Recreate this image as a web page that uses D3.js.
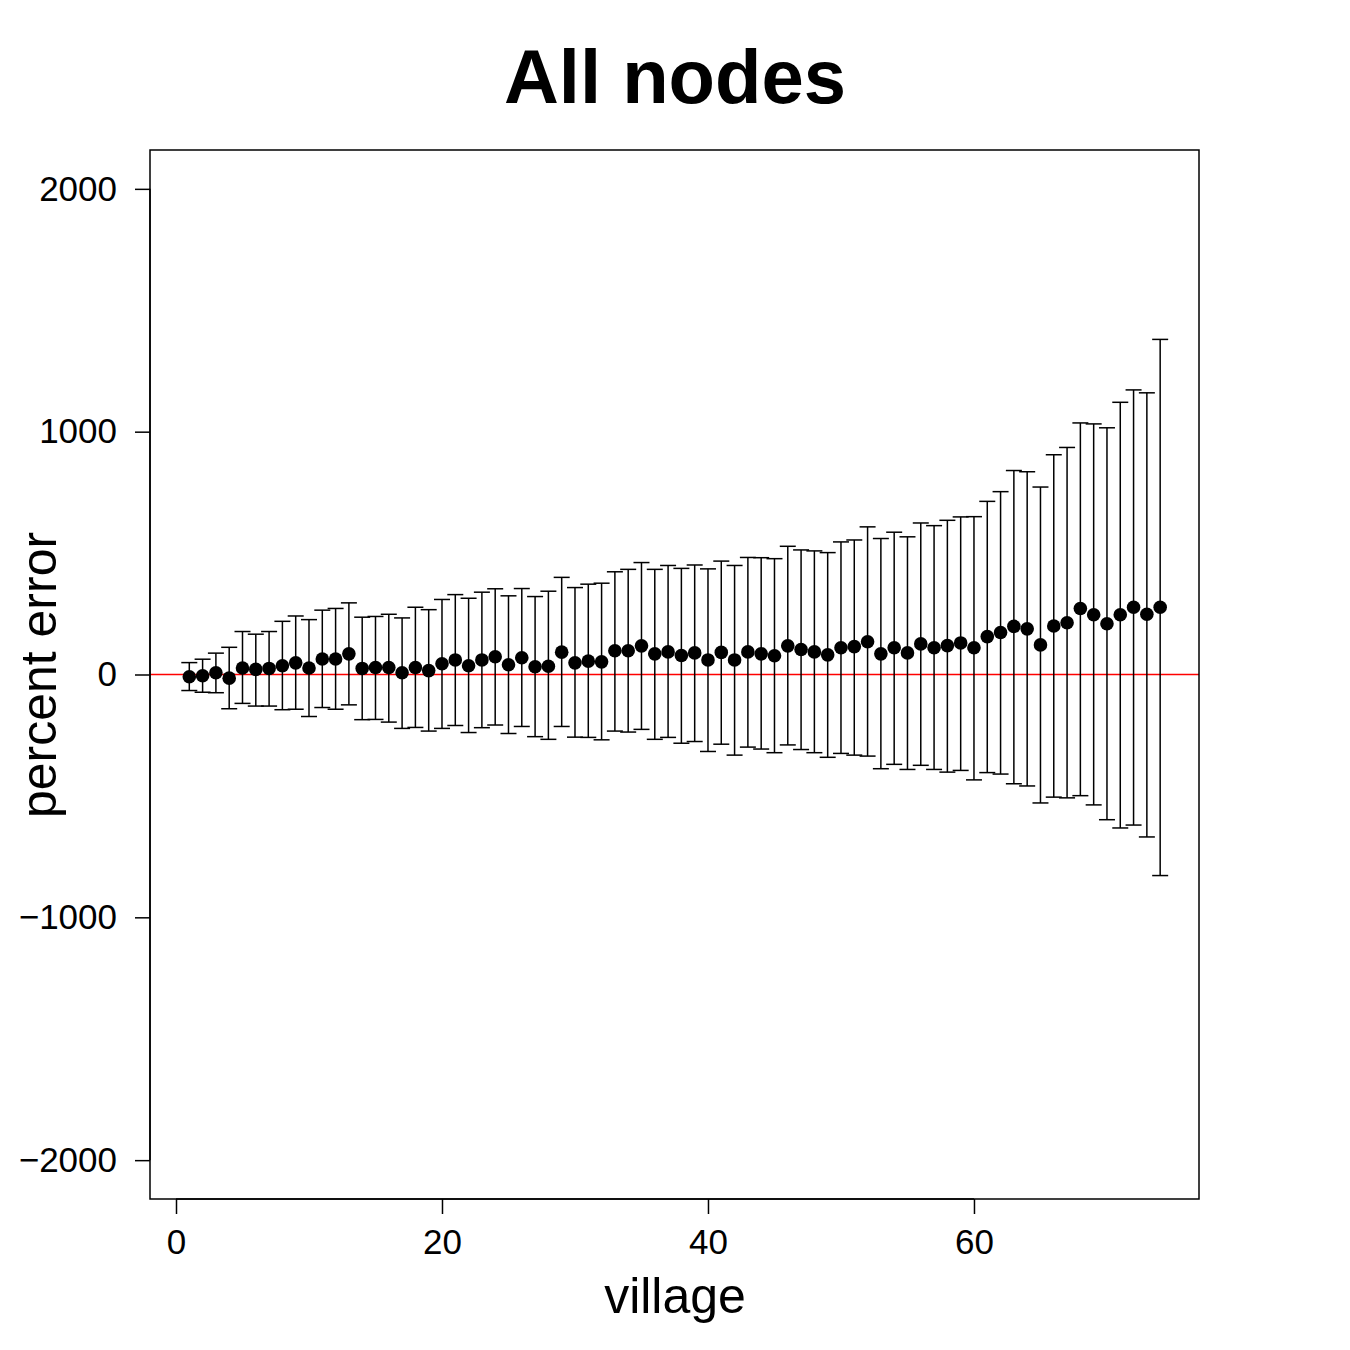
<!DOCTYPE html>
<html>
<head>
<meta charset="utf-8">
<script src="https://cdn.jsdelivr.net/npm/d3@7"></script>
<style>
  body { margin: 0; background: #fff; }
  text { font-family: "Liberation Sans", Arial, sans-serif; }
</style>
</head>
<body>
<script>
// mean percent error per village, with upper / lower ends of the bar
const meanErr = [-9, -5, 7, -15, 27, 21, 25, 36, 48, 27, 64, 64, 85, 25, 29, 29, 7, 29, 16, 44,
  60, 36, 60, 73, 40, 69, 32, 34, 92, 48, 55, 52, 98, 98, 118, 85, 93, 78, 89, 60,
  91, 60, 93, 85, 77, 118, 103, 93, 81, 110, 115, 135, 85, 110, 89, 126, 110, 119, 130, 110,
  156, 173, 198, 188, 122, 200, 213, 272, 246, 209, 246, 277, 248, 277];
const upperErr = [49, 63, 88, 112, 177, 166, 177, 219, 241, 226, 265, 272, 295, 236, 239, 248, 233, 277, 267, 309,
  329, 314, 339, 353, 324, 354, 321, 343, 400, 358, 372, 376, 423, 433, 461, 433, 449, 437, 451, 435,
  467, 449, 482, 481, 477, 528, 513, 509, 502, 546, 554, 608, 560, 586, 567, 624, 613, 635, 649, 650,
  713, 753, 840, 835, 772, 905, 935, 1036, 1032, 1016, 1121, 1172, 1160, 1380];
const lowerErr = [-66, -73, -75, -141, -119, -130, -130, -145, -143, -173, -136, -143, -125, -186, -185, -196, -222, -218, -233, -222,
  -210, -239, -219, -208, -243, -214, -256, -267, -214, -258, -259, -269, -233, -237, -226, -267, -259, -283, -276, -317,
  -287, -332, -299, -307, -322, -290, -309, -322, -341, -325, -332, -336, -388, -370, -391, -374, -391, -402, -395, -434,
  -404, -410, -450, -459, -529, -505, -508, -499, -537, -598, -632, -620, -669, -828];
const xTicks = [0, 20, 40, 60];
const yTicks = [-2000, -1000, 0, 1000, 2000];

const villages = meanErr.map((m, i) => ({ v: i + 1, m, hi: upperErr[i], lo: lowerErr[i] }));

const W = 1350, H = 1350;
const box = { left: 150, right: 1199, top: 150, bottom: 1199 };

const svg = d3.select("body").append("svg")
  .attr("width", W)
  .attr("height", H);

const x = d3.scaleLinear().domain([-1.955, 76.92]).range([box.left, box.right]);
const y = d3.scaleLinear().domain([-2160, 2160]).range([box.bottom, box.top]);

// title
svg.append("text")
  .attr("x", 675).attr("y", 103)
  .attr("text-anchor", "middle")
  .style("font-size", "76px").style("font-weight", "bold")
  .text("All nodes");

// reference line at zero
svg.append("line")
  .attr("x1", box.left).attr("x2", box.right)
  .attr("y1", y(0)).attr("y2", y(0))
  .attr("stroke", "#ff0000").attr("stroke-width", 1.5);

// error bars
const bars = svg.append("g").attr("stroke", "#000").attr("stroke-width", 1.5);
bars.selectAll(".stem").data(villages).enter().append("line")
  .attr("x1", d => x(d.v)).attr("x2", d => x(d.v))
  .attr("y1", d => y(d.hi)).attr("y2", d => y(d.lo));
bars.selectAll(".capHi").data(villages).enter().append("line")
  .attr("x1", d => x(d.v) - 8).attr("x2", d => x(d.v) + 8)
  .attr("y1", d => y(d.hi)).attr("y2", d => y(d.hi));
bars.selectAll(".capLo").data(villages).enter().append("line")
  .attr("x1", d => x(d.v) - 8).attr("x2", d => x(d.v) + 8)
  .attr("y1", d => y(d.lo)).attr("y2", d => y(d.lo));

// points
svg.append("g").selectAll("circle").data(villages).enter().append("circle")
  .attr("cx", d => x(d.v)).attr("cy", d => y(d.m))
  .attr("r", 6.8).attr("fill", "#000");

// frame
svg.append("rect")
  .attr("x", box.left).attr("y", box.top)
  .attr("width", box.right - box.left).attr("height", box.bottom - box.top)
  .attr("fill", "none").attr("stroke", "#000").attr("stroke-width", 1.5);

// axes
const xAxis = d3.axisBottom(x).tickValues(xTicks).tickSize(15).tickPadding(8).tickSizeOuter(0);
const gx = svg.append("g").attr("transform", `translate(0,${box.bottom})`).call(xAxis);
gx.select(".domain").attr("d", `M${x(0)},0H${x(60)}`);

const yAxis = d3.axisLeft(y).tickValues(yTicks).tickSize(15).tickPadding(18).tickSizeOuter(0)
  .tickFormat(d => d < 0 ? "\u2212" + Math.abs(d) : d);
const gy = svg.append("g").attr("transform", `translate(${box.left},0)`).call(yAxis);
gy.select(".domain").attr("d", `M0,${y(-2000)}V${y(2000)}`);

[gx, gy].forEach(g => {
  g.selectAll("line, path").attr("stroke", "#000").attr("stroke-width", 1.5);
  g.selectAll("text").style("font-size", "35px").attr("fill", "#000")
    .style("font-family", "'Liberation Sans', Arial, sans-serif");
});
gx.selectAll("text").attr("dy", "0.9em");

// axis titles
svg.append("text")
  .attr("x", 675).attr("y", 1313)
  .attr("text-anchor", "middle")
  .style("font-size", "50px")
  .text("village");
svg.append("text")
  .attr("transform", "translate(56,675) rotate(-90)")
  .attr("text-anchor", "middle")
  .style("font-size", "50px")
  .text("percent error");
</script>
</body>
</html>
